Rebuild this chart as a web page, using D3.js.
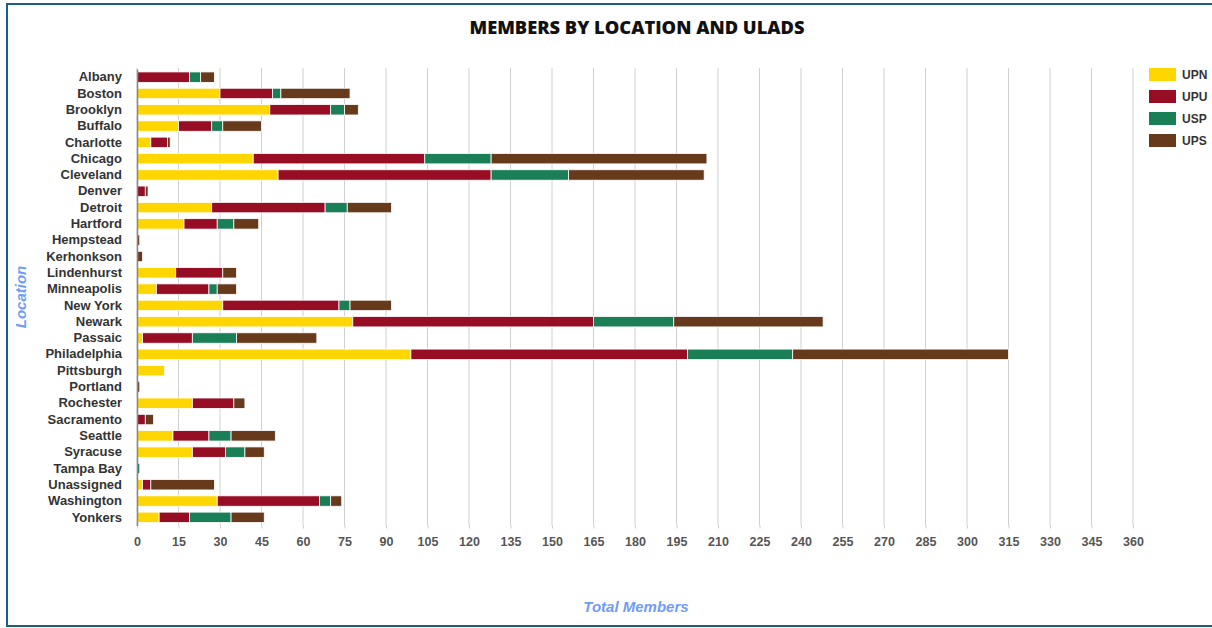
<!DOCTYPE html>
<html><head><meta charset="utf-8">
<script src="https://cdn.jsdelivr.net/npm/d3@7"></script>
<style>body{margin:0;background:#fff;}svg{display:block;}</style>
</head><body>
<script>
const locations = ["Albany","Boston","Brooklyn","Buffalo","Charlotte","Chicago","Cleveland","Denver","Detroit","Hartford","Hempstead","Kerhonkson","Lindenhurst","Minneapolis","New York","Newark","Passaic","Philadelphia","Pittsburgh","Portland","Rochester","Sacramento","Seattle","Syracuse","Tampa Bay","Unassigned","Washington","Yonkers"];
const UPN = [0,30,48,15,5,42,51,0,27,17,0,0,14,7,31,78,2,99,10,0,20,0,13,20,0,2,29,8];
const UPU = [19,19,22,12,6,62,77,3,41,12,0,0,17,19,42,87,18,100,0,0,15,3,13,12,0,3,37,11];
const USP = [4,3,5,4,0,24,28,0,8,6,0,0,0,3,4,29,16,38,0,0,0,0,8,7,1,0,4,15];
const UPS = [5,25,5,14,1,78,49,1,16,9,1,2,5,7,15,54,29,78,0,1,4,3,16,7,0,23,4,12];
const seriesNames = ["UPN","UPU","USP","UPS"];
const seriesColors = ["#ffd600","#960d24","#1a7e56","#673a1c"];
const xTicks = d3.range(0, 361, 15);

const W = 1212, H = 628;
const svg = d3.select("body").append("svg").attr("width", W).attr("height", H);
svg.append("rect").attr("x",7).attr("y",4).attr("width",W+5).attr("height",622)
  .attr("fill","#fff").attr("stroke","#1d5e87").attr("stroke-width",2);

const m = {left:137, right:1133, top:69, bottom:525.5};
const x = d3.scaleLinear().domain([0,360]).range([m.left, m.right]);
const y = d3.scaleBand().domain(locations).range([m.top, m.bottom]).paddingInner(0.36).paddingOuter(0.18);

// grid
svg.append("g").selectAll("line").data(xTicks).join("line")
  .attr("x1", d=>x(d)).attr("x2", d=>x(d)).attr("y1", m.top - 1).attr("y2", m.bottom)
  .attr("stroke","#d0d0d0").attr("stroke-width",1);

// stacked data
const table = locations.map((loc,i)=>({loc, UPN:UPN[i], UPU:UPU[i], USP:USP[i], UPS:UPS[i]}));
const stack = d3.stack().keys(seriesNames)(table);
svg.append("g").selectAll("g").data(stack).join("g")
  .attr("fill",(d,i)=>seriesColors[i])
  .selectAll("rect").data(d=>d.filter(s=>s[1]-s[0]>0)).join("rect")
  .attr("x", d=>x(d[0])).attr("width", d=>x(d[1])-x(d[0]))
  .attr("y", d=>y(d.data.loc)).attr("height", y.bandwidth())
  .attr("stroke","#fff").attr("stroke-width",0.8);

// x axis
const xa = svg.append("g").attr("transform",`translate(0,${m.bottom})`)
  .call(d3.axisBottom(x).tickValues(xTicks).tickSize(3).tickPadding(9));
xa.select(".domain").remove();
xa.selectAll("line").attr("stroke","#ccc");
xa.selectAll("text").attr("font-family","Liberation Sans, Arial, sans-serif").attr("font-size",12.5)
  .attr("font-weight","bold").attr("fill","#555");

// y axis
const ya = svg.append("g").attr("transform",`translate(${m.left},0)`)
  .call(d3.axisLeft(y).tickSize(0).tickPadding(15));
ya.select(".domain").attr("stroke","#888").attr("stroke-width",1.5);
ya.selectAll("text").attr("font-family","Liberation Sans, Arial, sans-serif").attr("font-size",13)
  .attr("font-weight","bold").attr("fill","#333");

// title
svg.append("text").attr("x",637).attr("y",34).attr("text-anchor","middle")
  .attr("font-family","Open Sans, sans-serif").attr("font-weight","800").attr("font-size",18.3)
  .attr("fill","#111").text("MEMBERS BY LOCATION AND ULADS");

// axis titles
svg.append("text").attr("x",636).attr("y",612).attr("text-anchor","middle")
  .attr("font-family","Liberation Sans, Arial, sans-serif").attr("font-weight","bold").attr("font-style","italic")
  .attr("font-size",15).attr("fill","#6f9cf6").text("Total Members");
svg.append("text").attr("transform","translate(26,297) rotate(-90)").attr("text-anchor","middle")
  .attr("font-family","Liberation Sans, Arial, sans-serif").attr("font-weight","bold").attr("font-style","italic")
  .attr("font-size",15).attr("fill","#6f9cf6").text("Location");

// legend
const lg = svg.append("g").selectAll("g").data(seriesNames).join("g")
  .attr("transform",(d,i)=>`translate(1149,${68+i*22})`);
lg.append("rect").attr("width",27).attr("height",13).attr("fill",(d,i)=>seriesColors[i]);
lg.append("text").attr("x",33).attr("y",11).attr("font-family","Liberation Sans, Arial, sans-serif")
  .attr("font-weight","bold").attr("font-size",12).attr("fill","#333").text(d=>d);
</script>
</body></html>
